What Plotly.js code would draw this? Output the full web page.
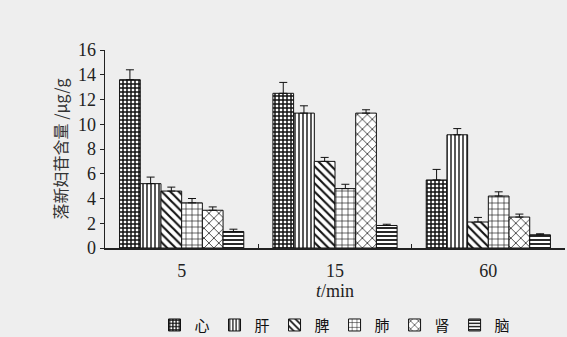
<!DOCTYPE html>
<html><head><meta charset="utf-8">
<script src="https://cdn.plot.ly/plotly-3.0.1.min.js"></script>
<style>html,body{margin:0;padding:0;background:#eeeeee;}</style>
</head><body><div id="chart" style="width:567px;height:337px;"></div>
<script>
const categories = ["5", "15", "60"];
const organs = ["心", "肝", "脾", "肺", "肾", "脑"];
const heart  = [13.6, 12.5, 5.5];
const liver  = [5.2, 10.9, 9.15];
const spleen = [4.6, 7.0, 2.1];
const lung   = [3.65, 4.8, 4.2];
const kidney = [3.05, 10.9, 2.5];
const brain  = [1.33, 1.82, 1.07];
const heartErr  = [0.8, 0.88, 0.85];
const liverErr  = [0.53, 0.59, 0.5];
const spleenErr = [0.32, 0.32, 0.37];
const lungErr   = [0.35, 0.35, 0.34];
const kidneyErr = [0.27, 0.27, 0.24];
const brainErr  = [0.19, 0.1, 0.08];

const values = [heart, liver, spleen, lung, kidney, brain];
const errs = [heartErr, liverErr, spleenErr, lungErr, kidneyErr, brainErr];
const patterns = [
  {shape: "+", size: 4, solidity: 0.6},
  {shape: "|", size: 4, solidity: 0.35},
  {shape: "\\", size: 6, solidity: 0.35},
  {shape: "+", size: 6, solidity: 0.2},
  {shape: "x", size: 7, solidity: 0.2},
  {shape: "-", size: 4, solidity: 0.45}
];

const traces = organs.map((name, i) => ({
  type: "bar",
  name: name,
  x: categories,
  y: values[i],
  marker: {
    color: "white",
    line: {color: "#111", width: 1},
    pattern: Object.assign({fgcolor: "#111", bgcolor: "white", fillmode: "replace"}, patterns[i])
  },
  error_y: {type: "data", array: errs[i], arrayminus: errs[i].map(() => 0), symmetric: false,
            color: "#111", thickness: 1, width: 4}
}));

const layout = {
  width: 567, height: 337,
  paper_bgcolor: "#eeeeee", plot_bgcolor: "#eeeeee",
  margin: {l: 105, r: 2, t: 50, b: 89, autoexpand: false},
  barmode: "group", bargap: 0.19, bargroupgap: 0,
  font: {family: "Liberation Serif, serif", color: "#222"},
  xaxis: {
    type: "category", range: [-0.5, 2.5],
    showline: true, linecolor: "#222", linewidth: 1.5,
    ticks: "inside", tickson: "boundaries", ticklen: 4, tickcolor: "#222",
    ticklabelstandoff: 6,
    tickfont: {family: "Liberation Serif, serif", size: 18, color: "#222"},
    title: {text: "<i>t</i>/min", font: {family: "Liberation Serif, serif", size: 18, color: "#222"}, standoff: 0}
  },
  yaxis: {
    range: [0, 16], dtick: 2, showgrid: false, zeroline: false,
    showline: true, linecolor: "#222", linewidth: 1.5,
    ticks: "outside", ticklen: 4, tickcolor: "#222",
    tickfont: {family: "Liberation Serif, serif", size: 18, color: "#222"},
    title: {text: "落新妇苷含量 /μg/g", font: {family: "Noto Sans CJK SC, sans-serif", size: 16, color: "#333"}, standoff: 6}
  },
  showlegend: true,
  legend: {
    orientation: "h", x: 0.5, xanchor: "center", y: -0.39, yanchor: "middle",
    bgcolor: "rgba(0,0,0,0)", itemwidth: 30, tracegroupgap: 0,
    font: {family: "Noto Sans CJK SC, sans-serif", size: 15, color: "#111"}
  }
};

Plotly.newPlot("chart", traces, layout, {displayModeBar: false, staticPlot: true});
</script>
</body></html>
